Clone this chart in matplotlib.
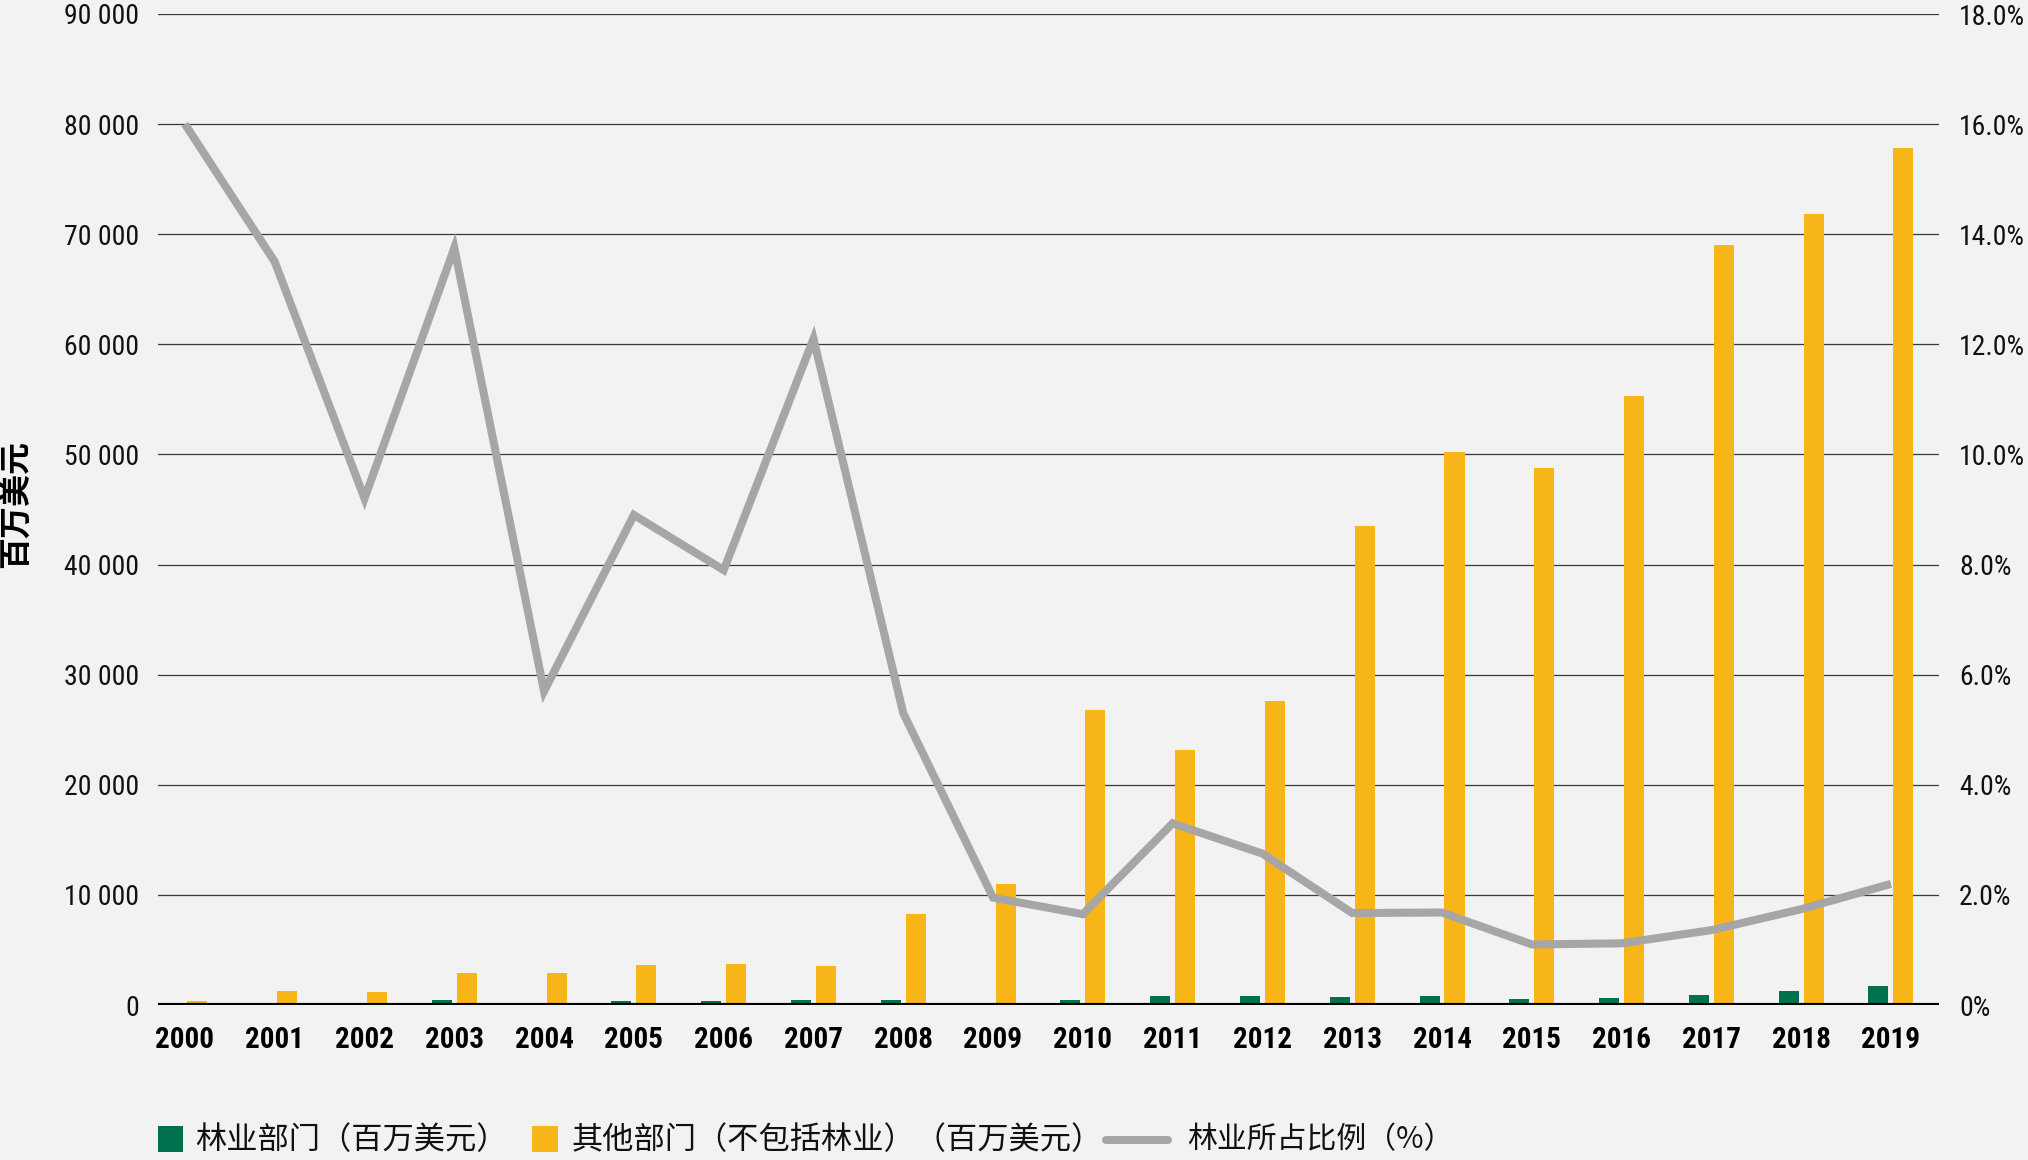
import os
import matplotlib
matplotlib.use("Agg")
import matplotlib.pyplot as plt
from matplotlib import font_manager as fm
from matplotlib.patches import Rectangle
from matplotlib.lines import Line2D

# ---------------- data ----------------
years = [str(y) for y in range(2000, 2020)]
forestry = [80, 200, 120, 450, 180, 350, 320, 480, 470, 220,
            450, 790, 780, 740, 860, 540, 630, 950, 1270, 1760]
other = [400, 1300, 1200, 2900, 2900, 3600, 3700, 3500, 8300, 11000,
         26800, 23200, 27600, 43500, 50200, 48800, 55300, 69000, 71800, 77800]
share_pct = [16.0, 13.5, 9.2, 13.75, 5.7, 8.9, 7.9, 12.1, 5.3, 1.95,
             1.65, 3.3, 2.75, 1.67, 1.68, 1.1, 1.12, 1.36, 1.74, 2.2]
left_ticks = [0, 10000, 20000, 30000, 40000, 50000, 60000, 70000, 80000, 90000]
right_ticks = [0, 2, 4, 6, 8, 10, 12, 14, 16, 18]
legend_labels = ["林业部门（百万美元）", "其他部门（不包括林业）（百万美元）", "林业所占比例（%）"]
y_label = "百万美元"

# ---------------- style ----------------
BG = "#f2f2f2"
GREEN = "#00714f"
YELLOW = "#f8b518"
GRAY = "#a6a6a6"
PT = 100 / 72.0  # pixels per point


def find_font(basenames):
    files = {os.path.basename(f.fname).lower(): f.fname for f in fm.fontManager.ttflist}
    for b in basenames:
        if b.lower() in files:
            return files[b.lower()]
    return None


reg = find_font(["RobotoCondensed-Regular.ttf", "LiberationSansNarrow-Regular.ttf",
                 "DejaVuSansCondensed.ttf"])
bold = find_font(["RobotoCondensed-Bold.ttf", "LiberationSansNarrow-Bold.ttf",
                  "DejaVuSansCondensed-Bold.ttf"])

if reg is not None:
    base = os.path.basename(reg).lower()
    size = 20 if ("roboto" in base or "narrow" in base) else 17.5
    fp_num = fm.FontProperties(fname=reg, size=size)
else:
    fp_num = fm.FontProperties(family="DejaVu Sans", size=15)
if bold is not None:
    base = os.path.basename(bold).lower()
    size = 21 if ("roboto" in base or "narrow" in base) else 17
    fp_year = fm.FontProperties(fname=bold, size=size)
else:
    fp_year = fm.FontProperties(family="DejaVu Sans", weight="bold", size=15.5)

CJK_FONT = ["Noto Sans CJK SC", "DejaVu Sans"]

W, H = 2028, 1160
fig = plt.figure(figsize=(W / 100, H / 100), dpi=100, facecolor=BG)

x0, x1 = 158, 1939
ytop, ybot = 14, 1005
ax = fig.add_axes([x0 / W, 1 - ybot / H, (x1 - x0) / W, (ybot - ytop) / H])
ax.set_facecolor(BG)
ax2 = ax.twinx()

xs = list(range(len(years)))
bw = 0.223
off = 0.139
ax.bar([x - off for x in xs], forestry, width=bw, color=GREEN, zorder=2)
ax.bar([x + off for x in xs], other, width=bw, color=YELLOW, zorder=2)

ax.set_xlim(-0.30, 19.535)
ax.set_ylim(0, 90000)
ax.set_yticks(left_ticks)
ax.set_yticklabels([f"{v:,}".replace(",", " ") for v in left_ticks], color="#111111")
for t in ax.get_yticklabels():
    t.set_fontproperties(fp_num)
ax.set_xticks(xs)
ax.set_xticklabels(years, color="#000000")
for t in ax.get_xticklabels():
    t.set_fontproperties(fp_year)
ax.tick_params(axis="y", length=0, pad=19 / PT)
ax.tick_params(axis="x", length=0, pad=21 / PT)
ax.yaxis.grid(True, color="#3a3a3a", linewidth=0.9, zorder=0)
ax.set_axisbelow(True)
for s in ax.spines.values():
    s.set_visible(False)
ax.axhline(0, color="#000000", linewidth=3.0, zorder=3)

ax2.plot(xs, share_pct, color=GRAY, linewidth=5.8, solid_joinstyle="miter",
         solid_capstyle="butt", zorder=4)
ax2.set_ylim(0, 18)
ax2.set_yticks(right_ticks)
ax2.set_yticklabels(["0%"] + [f"{v:.1f}%" for v in right_ticks[1:]], color="#111111")
for t in ax2.get_yticklabels():
    t.set_fontproperties(fp_num)
ax2.tick_params(axis="y", length=0, pad=20 / PT)
for s in ax2.spines.values():
    s.set_visible(False)

# y label
fig.text(16 / W, 1 - 504 / H, y_label, rotation=90, ha="center", va="center",
         fontfamily=CJK_FONT, fontsize=23, fontweight="bold", color="#000000")

# legend (manual)
ly = 1140


def fx(px):
    return px / W


def fy(py):
    return 1 - py / H


fig.patches.append(Rectangle((fx(158), fy(1152)), 25 / W, 26 / H,
                             transform=fig.transFigure, facecolor=GREEN,
                             edgecolor="none"))
fig.text(fx(195), fy(ly), legend_labels[0], ha="left", va="center",
         fontfamily=CJK_FONT, fontsize=22.5, color="#111111")
fig.patches.append(Rectangle((fx(532), fy(1152)), 26 / W, 26 / H,
                             transform=fig.transFigure, facecolor=YELLOW,
                             edgecolor="none"))
fig.text(fx(572), fy(ly), legend_labels[1], ha="left", va="center",
         fontfamily=CJK_FONT, fontsize=22.5, color="#111111")
fig.lines.append(Line2D([fx(1106), fx(1168)], [fy(ly), fy(ly)],
                        transform=fig.transFigure, color=GRAY, linewidth=5.8,
                        solid_capstyle="round"))
fig.text(fx(1187), fy(ly), legend_labels[2], ha="left", va="center",
         fontfamily=CJK_FONT, fontsize=21.5, color="#111111")

fig.savefig("out.png", dpi=100, facecolor=BG)
